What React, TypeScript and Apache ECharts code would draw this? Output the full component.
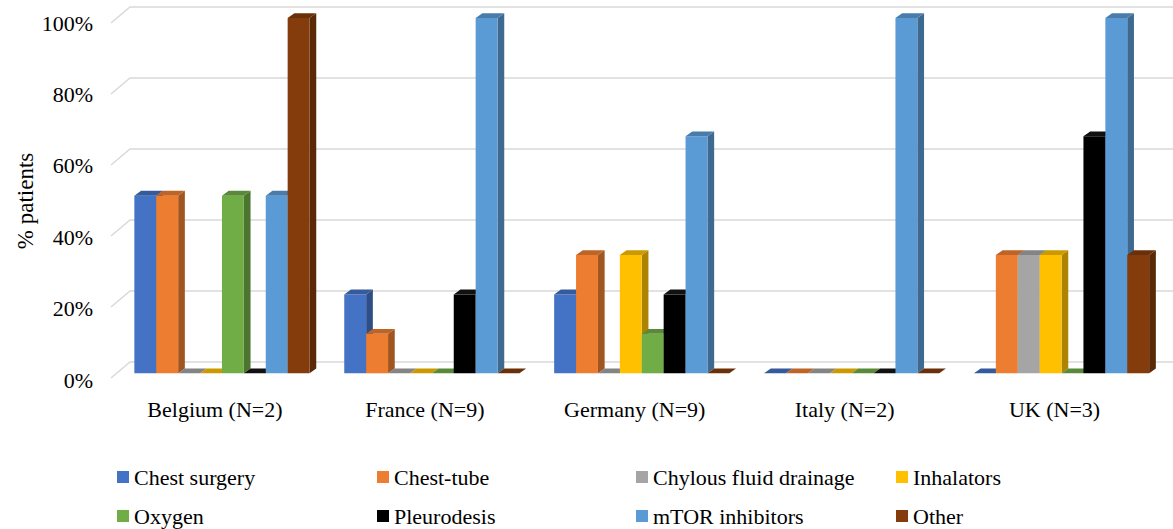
import React, { useEffect, useRef } from "react";
import * as echarts from "echarts";

const countries = ["Belgium (N=2)", "France (N=9)", "Germany (N=9)", "Italy (N=2)", "UK (N=3)"];
const treatments = ["Chest surgery", "Chest-tube", "Chylous fluid drainage", "Inhalators", "Oxygen", "Pleurodesis", "mTOR inhibitors", "Other"];
const chestSurgery = [50, 22.2, 22.2, 0, 0];
const chestTube = [50, 11.1, 33.3, 0, 33.3];
const chylousFluid = [0, 0, 0, 0, 33.3];
const inhalators = [0, 0, 33.3, 0, 33.3];
const oxygen = [50, 0, 11.1, 0, 0];
const pleurodesis = [0, 22.2, 22.2, 0, 66.7];
const mtorInhibitors = [50, 100, 66.7, 100, 100];
const other = [100, 0, 0, 0, 33.3];
const yTicks = [0, 20, 40, 60, 80, 100];

const seriesValues = [chestSurgery, chestTube, chylousFluid, inhalators, oxygen, pleurodesis, mtorInhibitors, other];
const colors = ["#4472C4", "#ED7D31", "#A5A5A5", "#FFC000", "#70AD47", "#000000", "#5B9BD5", "#843C0C"];

function shade(hex: string, f: number) {
  const n = parseInt(hex.slice(1), 16);
  const r = Math.round(((n >> 16) & 255) * f);
  const g = Math.round(((n >> 8) & 255) * f);
  const b = Math.round((n & 255) * f);
  return `rgb(${r},${g},${b})`;
}

const FONT = "'Liberation Serif', 'Times New Roman', serif";
const BAR_FRAC = 21.9 / 209.9;
const DX = 6.7;
const DY = -4.8;

export default function App() {
  const ref = useRef<HTMLDivElement>(null);
  useEffect(() => {
    document.body.style.margin = "0";
    const chart = echarts.init(ref.current!, null, { renderer: "svg" });

    const barSeries = seriesValues.map((vals, s) => ({
      type: "custom",
      name: treatments[s],
      xAxisIndex: 0,
      yAxisIndex: 0,
      z: 3,
      itemStyle: { color: colors[s] },
      data: vals.map((v, i) => [i, v]),
      encode: { x: 0, y: 1 },
      renderItem: (params: any, api: any) => {
        const ci = api.value(0);
        const v = api.value(1);
        const base = api.coord([ci, 0]);
        const top = api.coord([ci, v]);
        const band = api.size([1, 0])[0];
        const w = band * BAR_FRAC;
        const x = base[0] - 4 * w + s * w;
        const y0 = base[1];
        const y1 = top[1];
        const front = colors[s];
        const side = s === 5 ? "#000" : shade(colors[s], 0.68);
        const topc = s === 5 ? "#111" : shade(colors[s], 0.8);
        return {
          type: "group",
          children: [
            {
              type: "polygon",
              shape: { points: [[x + w, y0], [x + w + DX, y0 + DY], [x + w + DX, y1 + DY], [x + w, y1]] },
              style: { fill: side },
            },
            {
              type: "rect",
              shape: { x: x, y: y1, width: w, height: y0 - y1 },
              style: { fill: front },
            },
            {
              type: "polygon",
              shape: { points: [[x, y1], [x + w, y1], [x + w + DX, y1 + DY], [x + DX, y1 + DY]] },
              style: { fill: topc },
            },
          ],
        };
      },
    }));

    const gridSeries = {
      type: "custom",
      name: "gridlines",
      xAxisIndex: 2,
      yAxisIndex: 2,
      z: 1,
      silent: true,
      data: yTicks.map((t) => [0, t]),
      encode: { x: 0, y: 1 },
      renderItem: (params: any, api: any) => {
        const p = api.coord([0, api.value(1)]);
        const x0 = params.coordSys.x;
        return {
          type: "polyline",
          shape: { points: [[x0 - 19, p[1] + 16], [x0, p[1]], [api.getWidth(), p[1]]] },
          style: { stroke: "#d9d9d9", lineWidth: 1.5, fill: "none" },
        };
      },
    };

    const legendCols = [
      { left: 117, items: [treatments[0], treatments[4]] },
      { left: 377, items: [treatments[1], treatments[5]] },
      { left: 636, items: [treatments[2], treatments[6]] },
      { left: 896, items: [treatments[3], treatments[7]] },
    ];

    const option: any = {
      animation: false,
      backgroundColor: "#ffffff",
      grid: [
        { left: 117, width: 1049.5, top: 18, height: 355.3 },
        { left: 110, width: 1049.5, top: 23, height: 357 },
        { left: 130, right: 0, top: 7, height: 355 },
      ],
      xAxis: [
        { type: "category", gridIndex: 0, data: countries, show: false },
        {
          type: "category",
          gridIndex: 1,
          data: countries,
          axisLine: { show: false },
          axisTick: { show: false },
          splitLine: { show: false },
          axisLabel: { fontFamily: FONT, fontSize: 22, color: "#000", margin: 18 },
        },
        { type: "value", gridIndex: 2, min: 0, max: 1, show: false },
      ],
      yAxis: [
        { type: "value", gridIndex: 0, min: 0, max: 100, show: false },
        {
          type: "value",
          gridIndex: 1,
          min: 0,
          max: 100,
          interval: 20,
          axisLine: { show: false },
          axisTick: { show: false },
          splitLine: { show: false },
          axisLabel: { formatter: "{value}%", fontFamily: FONT, fontSize: 22, color: "#000", margin: 17 },
        },
        { type: "value", gridIndex: 2, min: 0, max: 100, show: false },
      ],
      legend: legendCols.map((c) => ({
        orient: "vertical",
        left: c.left,
        top: 466,
        height: 62,
        padding: 0,
        itemGap: 17,
        itemWidth: 12,
        itemHeight: 12,
        itemTextGap: 5,
        icon: "rect",
        selectedMode: false,
        data: c.items,
        textStyle: { fontFamily: FONT, fontSize: 22, color: "#000", lineHeight: 22 },
      })),
      graphic: [
        {
          type: "text",
          x: 25,
          y: 201,
          rotation: Math.PI / 2,
          style: {
            text: "% patients",
            fontFamily: FONT,
            fontSize: 23,
            fill: "#000",
            align: "center",
            verticalAlign: "middle",
          },
        },
      ],
      series: [gridSeries, ...barSeries],
    };
    chart.setOption(option);
    return () => chart.dispose();
  }, []);
  return <div ref={ref} style={{ width: 1173, height: 529 }} />;
}
